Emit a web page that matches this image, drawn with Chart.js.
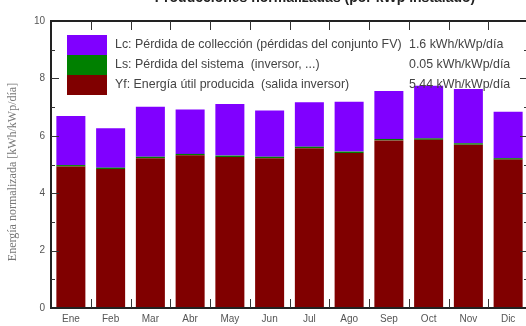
<!DOCTYPE html>
<html>
<head>
<meta charset="utf-8">
<script src="https://cdn.jsdelivr.net/npm/chart.js@4.4.0/dist/chart.umd.min.js"></script>
<style>
  html, body { margin: 0; padding: 0; background: #fff; overflow: hidden; }
  #wrap { position: relative; width: 528px; height: 326px; }
</style>
</head>
<body>
<div id="wrap"><canvas id="pvChart"></canvas></div>
<script>
'use strict';

// Data (kWh/kWp/dia)
let months = ['Ene', 'Feb', 'Mar', 'Abr', 'May', 'Jun', 'Jul', 'Ago', 'Sep', 'Oct', 'Nov', 'Dic'];
let yfValues = [4.93, 4.84, 5.22, 5.32, 5.26, 5.22, 5.57, 5.40, 5.84, 5.86, 5.69, 5.17];
let lsValues = [0.05, 0.05, 0.05, 0.05, 0.05, 0.05, 0.05, 0.05, 0.05, 0.05, 0.05, 0.05];
let lcValues = [1.71, 1.37, 1.74, 1.55, 1.80, 1.61, 1.55, 1.74, 1.67, 1.83, 1.89, 1.62];

let legendLabels = [
    'Lc: Pérdida de collección (pérdidas del conjunto FV)',
    'Ls: Pérdida del sistema  (inversor, ...)',
    'Yf: Energía útil producida  (salida inversor)'
];
let legendValues = ['1.6 kWh/kWp/día', '0.05 kWh/kWp/día', '5.44 kWh/kWp/día'];
let yTicks = [0, 2, 4, 6, 8, 10];

let titleText = 'Producciones normalizadas (por kWp instalado)';
let yTitle = 'Energía normalizada [kWh/kWp/día]';

let mycolors = ['#800000', '#008000', '#8000ff'];

Chart.defaults.font.family = "'Liberation Sans', Arial, sans-serif";
Chart.defaults.font.size = 10;
Chart.defaults.color = '#555555';

// frame, inward ticks, legend box, titles
let pvDecor = {
    id: 'pvDecor',
    afterDatasetsDraw(chart) {
        let ctx = chart.ctx;
        let area = chart.chartArea;
        let xs = chart.scales.x;
        let ys = chart.scales.y;
        ctx.save();

        // frame
        ctx.strokeStyle = '#222222';
        ctx.lineWidth = 2;
        ctx.strokeRect(area.left, area.top, area.right - area.left, area.bottom - area.top);

        // y ticks (major + minor) on both sides
        ctx.lineWidth = 1;
        ctx.strokeStyle = '#333333';
        for (let v = 1; v < 10; v++) {
            let y = Math.round(ys.getPixelForValue(v)) + 0.5;
            let len = v % 2 === 0 ? 8 : 4;
            ctx.beginPath();
            ctx.moveTo(area.left, y); ctx.lineTo(area.left + len, y);
            ctx.moveTo(area.right, y); ctx.lineTo(area.right - len, y);
            ctx.stroke();
        }
        // x ticks at category boundaries, top and bottom
        for (let i = 1; i < months.length; i++) {
            let x = Math.round((xs.getPixelForValue(i - 1) + xs.getPixelForValue(i)) / 2) + 0.5;
            ctx.beginPath();
            ctx.moveTo(x, area.top); ctx.lineTo(x, area.top + 9);
            ctx.moveTo(x, area.bottom); ctx.lineTo(x, area.bottom - 9);
            ctx.stroke();
        }

        // legend (Lc, Ls, Yf from top)
        let order = [2, 1, 0];
        let bx = area.left + 16, by = area.top + 14, bw = 40, bh = 20;
        ctx.font = "12.4px 'Liberation Sans', Arial, sans-serif";
        ctx.textBaseline = 'middle';
        order.forEach((dsIndex, row) => {
            let ds = chart.data.datasets[dsIndex];
            ctx.fillStyle = ds.backgroundColor;
            ctx.fillRect(bx, by + row * bh, bw, bh);
            ctx.fillStyle = '#444444';
            ctx.textAlign = 'left';
            ctx.fillText(legendLabels[row], bx + 48, by + row * bh + bh / 2);
            ctx.fillText(legendValues[row], 409, by + row * bh + bh / 2);
        });

        // y axis title
        ctx.save();
        ctx.translate(13, 172);
        ctx.rotate(-Math.PI / 2);
        ctx.font = "12px 'Liberation Serif', 'Times New Roman', serif";
        ctx.fillStyle = '#777777';
        ctx.textAlign = 'center';
        ctx.textBaseline = 'middle';
        ctx.fillText(yTitle, 0, 0);
        ctx.restore();

        // chart title, mostly cut off at the top
        ctx.font = "bold 14px 'Liberation Sans', Arial, sans-serif";
        ctx.fillStyle = '#222222';
        ctx.textAlign = 'center';
        ctx.textBaseline = 'alphabetic';
        ctx.fillText(titleText, 315, 1.5);

        ctx.restore();
    }
};

let ctxPv = document.getElementById('pvChart').getContext('2d');
let pvChart = new Chart(ctxPv, {
    type: 'bar',
    data: {
        labels: months,
        datasets: [{
            label: 'Yf',
            data: yfValues,
            backgroundColor: mycolors[0],
            categoryPercentage: 1,
            barPercentage: 0.73,
        }, {
            label: 'Ls',
            data: lsValues,
            backgroundColor: mycolors[1],
            categoryPercentage: 1,
            barPercentage: 0.73,
        }, {
            label: 'Lc',
            data: lcValues,
            backgroundColor: mycolors[2],
            categoryPercentage: 1,
            barPercentage: 0.73,
        }]
    },
    options: {
        responsive: true,
        maintainAspectRatio: false,
        animation: false,
        layout: {
            padding: {top: 21, left: 0, right: 0, bottom: 0}
        },
        scales: {
            x: {
                stacked: true,
                grid: {display: false, drawTicks: false},
                border: {display: false},
                ticks: {padding: 5, color: '#555555'},
                afterFit: scale => { scale.height = 18; }
            },
            y: {
                stacked: true,
                min: 0,
                max: 10,
                afterBuildTicks: scale => { scale.ticks = yTicks.map(v => ({value: v})); },
                grid: {display: false, drawTicks: false},
                border: {display: false},
                ticks: {padding: 6, color: '#555555'},
                afterFit: scale => { scale.width = 51; }
            }
        },
        plugins: {
            legend: {display: false},
            title: {display: false},
            tooltip: {enabled: false}
        }
    },
    plugins: [pvDecor]
});
</script>
</body>
</html>
